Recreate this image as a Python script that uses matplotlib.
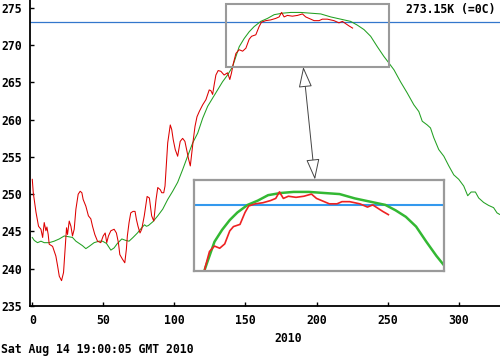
import matplotlib
matplotlib.use("Agg")
import matplotlib.pyplot as plt
from matplotlib.patches import Rectangle

# ---- data ----
red_days = [0, 0.7, 2.6, 4.4, 6.1, 7.3, 8.4, 9.6, 10.3, 11.2, 11.9, 14.3, 16.6, 17.8, 19.0, 20.6,
            22.0, 23.2, 24.1, 24.8, 26.0, 27.2, 28.3, 29.5, 30.7, 32.3, 33.7, 34.9, 35.8, 37.7,
            39.5, 41.2, 42.4, 44.0, 45.9, 48.2, 49.9, 51.3, 52.4, 53.6, 55.3, 57.6, 59.2, 60.6,
            61.6, 63.4, 65.1, 66.2, 66.9, 68.1, 69.3, 70.9, 72.3, 73.3, 74.4, 75.8, 77.0, 78.8,
            80.8, 82.4, 84.0, 85.5, 87.1, 88.3, 90.1, 91.1, 92.5, 93.4, 94.1, 95.3, 97.1, 98.1,
            99.2, 100.6, 102.3, 104.1, 105.8, 107.4, 108.6, 110.0, 111.2, 112.1, 113.3, 114.5,
            115.9, 117.5, 119.9, 122.2, 124.5, 125.7, 126.9, 128.0, 129.2, 130.8, 132.7, 135.0,
            137.4, 139.0, 140.2, 141.4, 143.3, 145.6, 148.0, 150.3, 152.6, 154.3, 157.3, 159.6,
            161.3, 164.3, 167.8, 171.3, 173.7, 175.4, 177.2, 179.5, 183.0, 186.6, 190.1, 192.4,
            194.8, 198.3, 201.8, 204.1, 207.6, 210.0, 212.3, 215.8, 218.2, 220.5, 222.8, 225.4]
red_vals = [252.0, 250.2, 247.6, 245.7, 245.3, 244.2, 246.2, 245.1, 245.6, 244.6, 243.3, 243.0,
            241.7, 240.4, 239.0, 238.4, 239.5, 243.0, 245.5, 244.6, 246.4, 245.7, 244.4, 245.3,
            248.0, 250.0, 250.4, 250.2, 249.3, 248.4, 247.1, 246.7, 245.7, 244.6, 243.7, 243.5,
            244.4, 244.8, 243.5, 244.4, 245.1, 245.3, 244.8, 243.5, 241.9, 241.3, 240.8, 242.6,
            244.4, 246.2, 247.5, 247.7, 247.7, 246.6, 245.7, 244.8, 245.3, 247.1, 249.7, 249.5,
            247.1, 246.4, 249.3, 250.9, 250.6, 250.2, 250.2, 251.1, 253.3, 256.9, 259.3, 258.7,
            257.3, 256.0, 255.1, 257.1, 257.5, 257.1, 256.0, 254.7, 253.8, 255.3, 257.3, 259.1,
            260.4, 261.1, 262.0, 262.7, 264.0, 263.9, 263.4, 264.7, 266.0, 266.6, 266.5, 266.0,
            266.3, 265.4, 266.3, 267.5, 268.9, 269.4, 269.2, 269.6, 270.8, 271.2, 271.4, 272.5,
            273.1, 273.3, 273.4, 273.6, 273.8, 274.4, 273.8, 274.0, 273.9, 274.0, 274.2, 273.8,
            273.6, 273.3, 273.3, 273.5, 273.5, 273.4, 273.3, 273.0, 273.2, 272.9, 272.6, 272.3]

green_days = [0, 1.4, 3.7, 6.1, 8.4, 11.9, 15.4, 19.0, 22.5, 25.5, 28.3, 30.7, 33.0, 35.3, 37.7,
              40.0, 43.5, 47.0, 49.4, 52.2, 55.3, 57.6, 59.9, 63.0, 65.8, 68.1, 70.9, 74.0, 77.0,
              79.0, 80.3, 81.7, 84.8, 88.3, 91.8, 95.3, 98.8, 102.3, 105.8, 109.3, 112.9, 116.4,
              119.9, 123.4, 126.9, 130.4, 133.9, 137.4, 140.9, 142.1, 145.6, 149.1, 152.6, 156.1,
              160.8, 165.5, 170.2, 176.0, 181.9, 188.9, 195.9, 203.0, 210.0, 217.0, 224.0, 228.7,
              233.4, 238.1, 242.8, 247.4, 251.0, 254.5, 259.1, 263.8, 268.5, 272.0, 274.4, 277.9,
              280.2, 282.5, 286.0, 289.6, 293.1, 296.6, 300.1, 303.6, 306.4, 308.8, 311.8, 314.1,
              317.6, 321.1, 324.6, 327.0, 328.8]
green_vals = [244.2, 243.8, 243.5, 243.7, 243.5, 243.5, 243.7, 244.0, 244.4, 244.3, 244.2, 243.7,
              243.4, 243.1, 242.7, 243.0, 243.5, 243.7, 243.7, 243.4, 242.5, 242.8, 243.4, 244.0,
              243.8, 243.7, 244.2, 244.8, 245.5, 245.9, 245.7, 245.8, 246.3, 247.1, 248.0, 249.3,
              250.4, 251.6, 253.3, 255.1, 256.9, 258.2, 260.2, 261.8, 262.9, 264.0, 265.1, 266.0,
              267.1, 267.8, 269.8, 270.9, 271.8, 272.5, 273.2, 273.6, 274.1, 274.3, 274.4, 274.4,
              274.3, 274.2, 273.8, 273.5, 273.2, 272.7, 272.1, 271.2, 269.8, 268.5, 267.6, 266.7,
              265.1, 263.6, 262.0, 261.1, 259.8, 259.3, 258.9, 257.6, 256.0, 255.1, 253.8, 252.6,
              252.0, 251.1, 249.8, 250.3, 250.3, 249.5, 248.9, 248.5, 248.2, 247.5, 247.3]

freezing_k = 273.15
x_ticks = [0, 50, 100, 150, 200, 250, 300]
y_ticks = [235, 240, 245, 250, 255, 260, 265, 270, 275]
freeze_label = "273.15K (=0C)"
x_label = "2010"
footer = "Sat Aug 14 19:00:05 GMT 2010"

RED = "#dd0000"
GREEN = "#22a022"
BLUE = "#3377cc"
GRAY = "#9a9a9a"

FONT = dict(family="DejaVu Sans Mono", weight="bold", size=8.3)

fig = plt.figure(figsize=(5.0, 3.58), dpi=100)
W, H = 500.0, 358.0
ax = fig.add_axes([30 / W, 1 - 306 / H, 521 / W, 306 / H])
ax.set_xlim(-1.6, 365)
ax.set_ylim(235, 276.07)

ax.plot(green_days, green_vals, color=GREEN, lw=0.75, zorder=3)
ax.plot(red_days, red_vals, color=RED, lw=0.75, zorder=4)
ax.axhline(freezing_k, color=BLUE, lw=0.9, zorder=2)

for s in ("top", "right"):
    ax.spines[s].set_visible(False)
for s in ("left", "bottom"):
    ax.spines[s].set_linewidth(1.3)
    ax.spines[s].set_color("black")

ax.set_xticks(x_ticks)
ax.set_yticks(y_ticks)
ax.tick_params(axis="both", direction="in", length=3, width=1, color="black")
ax.tick_params(axis="y", pad=5.5)
ax.tick_params(axis="x", pad=6)
for lab in ax.get_xticklabels() + ax.get_yticklabels():
    lab.set_fontfamily(FONT["family"])
    lab.set_fontweight(FONT["weight"])
    lab.set_fontsize(FONT["size"])

# zoom source rectangle
rx0, rx1, ry0, ry1 = 136.2, 250.9, 267.1, 275.54
ax.add_patch(Rectangle((rx0, ry0), rx1 - rx0, ry1 - ry0, fill=False, ec=GRAY, lw=1.5,
                       zorder=5, clip_on=False))

# inset
ins = ax.inset_axes([113.8, 239.7, 175.9, 12.27], transform=ax.transData, zorder=6)
ins.set_facecolor("white")
ins.plot(green_days, green_vals, color="#33b833", lw=1.8)
ins.plot(red_days, red_vals, color="#ee2222", lw=1.2)
ins.axhline(freezing_k, color="#3399ee", lw=1.5, zorder=1)
ins.set_xlim(rx0, rx1)
ins.set_ylim(ry0, ry1)
ins.set_xticks([])
ins.set_yticks([])
for s in ins.spines.values():
    s.set_color(GRAY)
    s.set_linewidth(1.6)

# double arrow
ax.annotate("", xy=(190.7, 267.1), xytext=(198.9, 251.97),
            arrowprops=dict(arrowstyle="<|-|>,head_length=1.3,head_width=0.42",
                            fc="white", ec="#444444", lw=0.7, shrinkA=0, shrinkB=0),
            zorder=7)

fig.text(495 / W, 1 - 9 / H, freeze_label, ha="right", va="center", **FONT)
fig.text(288 / W, 1 - 338 / H, x_label, ha="center", va="center", **FONT)
fig.text(1 / W, 1 - 350 / H, footer, ha="left", va="center", **FONT)

fig.savefig("out.png", dpi=100)
